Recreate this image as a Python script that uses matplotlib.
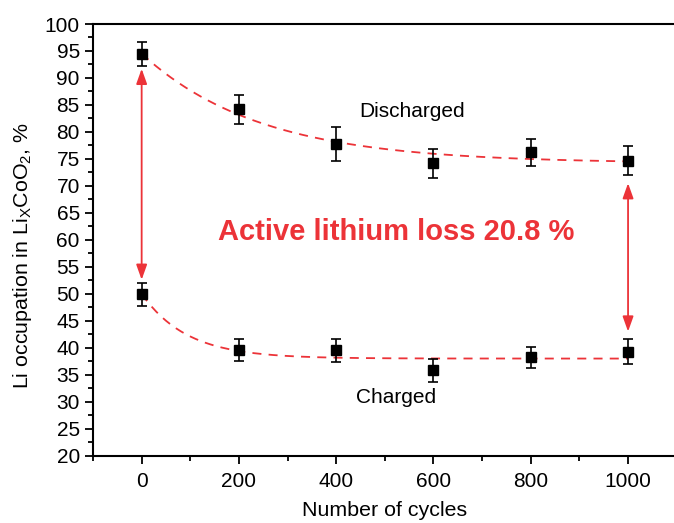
import matplotlib.pyplot as plt
import numpy as np
from matplotlib.ticker import MultipleLocator

plt.rcParams['font.family'] = ['Liberation Sans', 'DejaVu Sans']
plt.rcParams['mathtext.fontset'] = 'custom'
plt.rcParams['mathtext.rm'] = 'Liberation Sans'
plt.rcParams['mathtext.it'] = 'Liberation Sans'

# 数据
cycles = [0, 200, 400, 600, 800, 1000]
discharged = [94.4, 84.2, 77.8, 74.2, 76.2, 74.7]
discharged_err = [2.2, 2.7, 3.1, 2.65, 2.55, 2.65]
charged = [49.9, 39.6, 39.5, 35.8, 38.2, 39.3]
charged_err = [2.15, 2.1, 2.2, 2.1, 2.0, 2.25]

# 指数衰减拟合参数 y = y0 + A*exp(-x/t)
fit_dis = (74.2, 20.3, 245)
fit_chg = (38.0, 12.0, 93)

red = '#ec3338'

fig = plt.figure(figsize=(6.74, 5.23), dpi=100)
ax = fig.add_axes([0.138, 0.1287, 0.866, 0.8254])
ax.set_xlim(-100, 1100)
ax.set_ylim(20, 100)

x_fit = np.linspace(0, 1000, 200)
for y0, a, t in (fit_dis, fit_chg):
    ax.plot(x_fit, y0 + a * np.exp(-x_fit / t), color=red, lw=1.3,
            dashes=(5, 4), zorder=3)

for vals, errs in ((discharged, discharged_err), (charged, charged_err)):
    ax.errorbar(cycles, vals, yerr=errs, fmt='s', color='black', ms=7.5,
                ecolor='black', elinewidth=1.2, capsize=3.8, capthick=1.2,
                zorder=4)

# 双向箭头
ax.annotate('', xy=(0, 91.7), xytext=(0, 52.6),
            arrowprops=dict(arrowstyle='<|-|>,head_length=0.7,head_width=0.25',
                            color=red, lw=1.3, mutation_scale=13,
                            shrinkA=0, shrinkB=0))
ax.annotate('', xy=(1000, 70.5), xytext=(1000, 43.0),
            arrowprops=dict(arrowstyle='<|-|>,head_length=0.7,head_width=0.25',
                            color=red, lw=1.3, mutation_scale=13,
                            shrinkA=0, shrinkB=0))

ax.text(523, 61.5, 'Active lithium loss 20.8 %', color=red, fontsize=21,
        fontweight='bold', ha='center', va='center')
ax.text(555, 83.7, 'Discharged', fontsize=15, ha='center', va='center')
ax.text(524, 30.7, 'Charged', fontsize=15, ha='center', va='center')

ax.set_xticks(cycles)
ax.xaxis.set_minor_locator(MultipleLocator(100))
ax.yaxis.set_major_locator(MultipleLocator(5))
ax.yaxis.set_minor_locator(MultipleLocator(2.5))
ax.tick_params(which='both', direction='out', width=1.3, labelsize=15,
               top=False, right=False)
ax.tick_params(which='major', length=6)
ax.tick_params(which='minor', length=3.5)
ax.tick_params(axis='x', which='major', pad=6)
for s in ax.spines.values():
    s.set_linewidth(1.5)

ax.set_xlabel('Number of cycles', fontsize=15.4, labelpad=7)
ax.set_ylabel('Li occupation in Li$_\\mathrm{X}$CoO$_2$, %', fontsize=15.4)
ax.yaxis.set_label_coords(-0.101, 0.463)

plt.savefig('out.png', dpi=100)
plt.close()
